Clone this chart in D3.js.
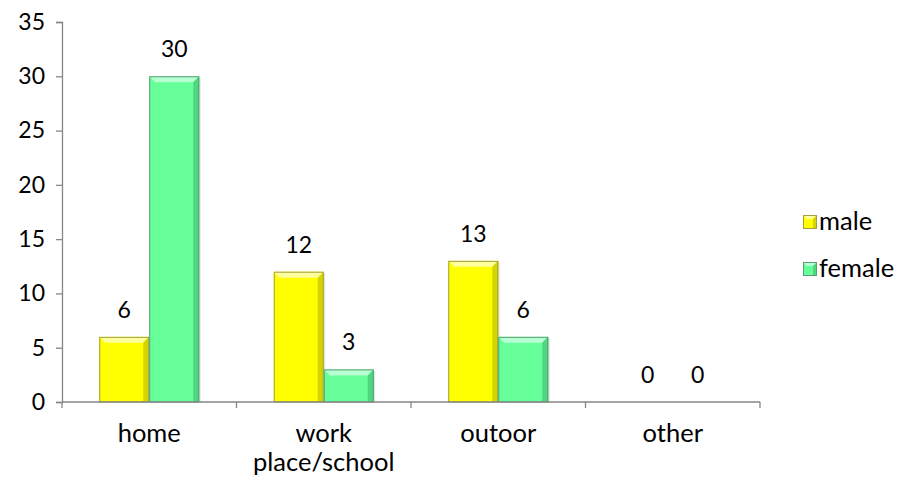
<!DOCTYPE html>
<html>
<head>
<meta charset="utf-8">
<script src="https://cdn.jsdelivr.net/npm/d3@7"></script>
<style>
  html, body { margin: 0; padding: 0; background: #fff; }
  svg { display: block; font-family: Lato, "Open Sans", sans-serif; }
</style>
</head>
<body>
<svg id="chart" width="898" height="482"></svg>
<script>
// Place where the injury happened, counts by sex
const categories = ["home", "work\nplace/school", "outoor", "other"];
const seriesNames = ["male", "female"];
const maleValues = [6, 12, 13, 0];
const femaleValues = [30, 3, 6, 0];
const yTicks = [0, 5, 10, 15, 20, 25, 30, 35];

const series = [
  { name: seriesNames[0], values: maleValues, base: "#ffff00", light: "#ffff9e", dark: "#d4d400", edge: "#a0a040" },
  { name: seriesNames[1], values: femaleValues, base: "#66ff99", light: "#b8ffd4", dark: "#4fd680", edge: "#5a9f74" }
];

const svg = d3.select("#chart");
const margin = { left: 62, right: 138, top: 22, bottom: 80 };
const W = 898, H = 482;
const numSize = 23;   // digits
const wordSize = 25.5; // category and legend words

const x = d3.scaleBand().domain(categories).range([margin.left, W - margin.right]).paddingInner(0).paddingOuter(0);
const xs = d3.scaleBand().domain(seriesNames).range([0, x.bandwidth()]).paddingInner(0).paddingOuter(0.745);
const y = d3.scaleLinear().domain([0, 35]).range([H - margin.bottom, margin.top]);

const axisColor = "#868686";

// bars with a bevelled look
const bev = 6;
series.forEach(s => {
  const g = svg.append("g");
  categories.forEach((c, i) => {
    const v = s.values[i];
    if (v <= 0) return;
    const x0 = x(c) + xs(s.name), w = xs.bandwidth();
    const y0 = y(v), y1 = y(0), h = y1 - y0;
    const b = Math.min(bev, h / 2, w / 2);
    const bg = g.append("g");
    bg.append("rect").attr("x", x0 + 1.5).attr("y", y0 + 1.5).attr("width", w).attr("height", h - 1.5)
      .attr("fill", "#000").attr("opacity", 0.1);
    bg.append("rect").attr("x", x0).attr("y", y0).attr("width", w).attr("height", h).attr("fill", s.base);
    // top bevel
    bg.append("path").attr("d", `M${x0},${y0}L${x0 + w},${y0}L${x0 + w - b},${y0 + b}L${x0 + b},${y0 + b}Z`)
      .attr("fill", s.light);
    // right bevel
    bg.append("path").attr("d", `M${x0 + w},${y0}L${x0 + w - b},${y0 + b}L${x0 + w - b},${y1}L${x0 + w},${y1}Z`)
      .attr("fill", s.dark);
    bg.append("rect").attr("x", x0 + 0.5).attr("y", y0 + 0.5).attr("width", w - 1).attr("height", h - 0.5)
      .attr("fill", "none").attr("stroke", s.edge).attr("stroke-width", 1);
  });
  // value labels
  categories.forEach((c, i) => {
    const v = s.values[i];
    svg.append("text")
      .attr("x", x(c) + xs(s.name) + xs.bandwidth() / 2)
      .attr("y", y(v) - 19)
      .attr("text-anchor", "middle")
      .attr("font-size", numSize)
      .attr("fill", "#000")
      .text(v);
  });
});

// y axis
const yAxis = svg.append("g").attr("transform", `translate(${margin.left},0)`)
  .call(d3.axisLeft(y).tickValues(yTicks).tickSize(6).tickPadding(11));
yAxis.selectAll("line, path").attr("stroke", axisColor).attr("stroke-width", 1.3);
yAxis.selectAll("text").attr("font-size", numSize).attr("fill", "#000").attr("font-family", "Lato, sans-serif");

// x axis with ticks at category boundaries
const xAxisG = svg.append("g").attr("transform", `translate(0,${y(0)})`);
xAxisG.append("line").attr("x1", margin.left).attr("x2", W - margin.right).attr("y1", 0).attr("y2", 0)
  .attr("stroke", axisColor).attr("stroke-width", 1.3);
const bounds = categories.map(c => x(c)).concat([x(categories[categories.length - 1]) + x.bandwidth()]);
xAxisG.selectAll("line.tick").data(bounds).enter().append("line")
  .attr("x1", d => d).attr("x2", d => d).attr("y1", 0).attr("y2", 6)
  .attr("stroke", axisColor).attr("stroke-width", 1.3);
categories.forEach(c => {
  const t = xAxisG.append("text").attr("text-anchor", "middle").attr("font-size", wordSize).attr("fill", "#000");
  c.split("\n").forEach((line, k) => {
    t.append("tspan").attr("x", x(c) + x.bandwidth() / 2).attr("y", 40 + k * 29).text(line);
  });
});

// legend
const legend = svg.append("g");
series.forEach((s, i) => {
  const ly = 222 + i * 47;
  const lg = legend.append("g").attr("transform", `translate(803,${ly - 7})`);
  lg.append("rect").attr("x", 0.5).attr("y", 0.5).attr("width", 13).attr("height", 13).attr("fill", s.base).attr("stroke", s.edge);
  lg.append("path").attr("d", "M1,1L13,1L10,4L4,4Z").attr("fill", s.light);
  lg.append("path").attr("d", "M13,1L10,4L10,13L13,13Z").attr("fill", s.dark);
  legend.append("text").attr("x", 819).attr("y", ly + 8).attr("font-size", wordSize).attr("fill", "#000").text(s.name);
});
</script>
</body>
</html>
